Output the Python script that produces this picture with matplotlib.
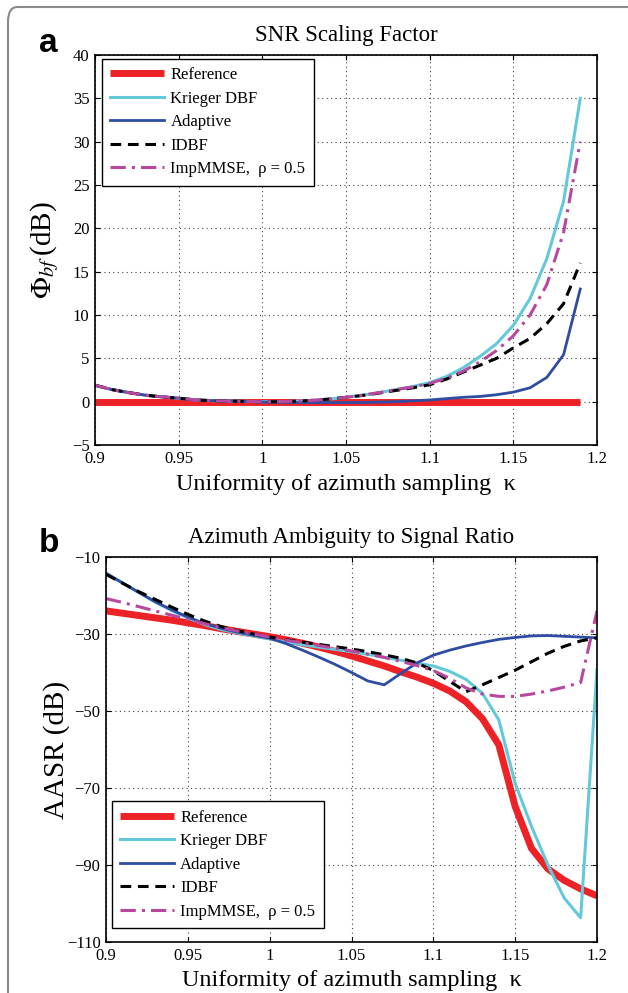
import numpy as np
import matplotlib
matplotlib.use("Agg")
import matplotlib.pyplot as plt
from matplotlib.patches import FancyBboxPatch

plt.rcParams['font.family'] = ['Liberation Serif', 'DejaVu Serif']
plt.rcParams['mathtext.fontset'] = 'stix'

# ---- data: panel a (SNR scaling factor, dB) ----
kappa_a = [0.90, 0.91, 0.92, 0.93, 0.94, 0.95, 0.96, 0.97, 0.98, 0.99,
           1.00, 1.01, 1.02, 1.03, 1.04, 1.05, 1.06, 1.07, 1.08, 1.09,
           1.10, 1.11, 1.12, 1.13, 1.14, 1.15, 1.16, 1.17, 1.18, 1.19]
snr_ref = [0.0] * 30
snr_krieger = [1.9, 1.4, 1.05, 0.75, 0.55, 0.4, 0.2, 0.12, 0.07, 0.03,
               0.0, 0.0, 0.05, 0.15, 0.3, 0.5, 0.75, 1.05, 1.4, 1.75,
               2.2, 2.9, 3.9, 5.2, 6.7, 8.8, 11.9, 16.5, 23.1, 35.0]
snr_adaptive = [1.9, 1.4, 1.05, 0.75, 0.55, 0.4, 0.2, 0.12, 0.07, 0.03,
                -0.05, -0.08, -0.1, -0.1, -0.1, -0.1, -0.1, -0.05, 0.0, 0.1,
                0.2, 0.35, 0.5, 0.6, 0.8, 1.1, 1.6, 2.8, 5.4, 13.0]
snr_idbf = [1.9, 1.4, 1.05, 0.75, 0.55, 0.4, 0.2, 0.12, 0.07, 0.03,
            0.0, 0.0, 0.05, 0.15, 0.3, 0.5, 0.72, 1.0, 1.3, 1.6,
            1.95, 2.6, 3.4, 4.2, 5.0, 6.2, 7.3, 9.0, 11.3, 16.0]
snr_imp = [1.9, 1.4, 1.05, 0.75, 0.55, 0.4, 0.2, 0.12, 0.07, 0.03,
           0.0, 0.0, 0.05, 0.15, 0.3, 0.5, 0.75, 1.05, 1.4, 1.7,
           2.1, 2.7, 3.5, 4.6, 5.9, 7.6, 10.0, 13.5, 19.5, 30.0]

# ---- data: panel b (AASR, dB) ----
kappa_b = [0.90, 0.91, 0.92, 0.93, 0.94, 0.95, 0.96, 0.97, 0.98, 0.99,
           1.00, 1.01, 1.02, 1.03, 1.04, 1.05, 1.06, 1.07, 1.08, 1.09,
           1.10, 1.11, 1.12, 1.13, 1.14, 1.15, 1.16, 1.17, 1.18, 1.19, 1.20]
aasr_ref = [-24.0, -24.6, -25.2, -25.8, -26.4, -27.1, -27.8, -28.6, -29.3, -30.0,
            -30.7, -31.5, -32.4, -33.4, -34.5, -35.7, -37.0, -38.3, -39.8, -41.2,
            -42.8, -44.8, -47.6, -52.0, -58.8, -74.8, -85.7, -91.0, -94.0, -96.2, -98.0]
aasr_krieger = [-14.3, -16.7, -19.2, -21.7, -23.9, -25.8, -27.5, -28.8, -29.7, -30.5,
                -31.3, -32.1, -32.8, -33.4, -34.0, -34.6, -35.3, -36.0, -36.8, -37.6,
                -38.3, -39.7, -41.8, -45.4, -52.3, -68.8, -80.0, -90.0, -98.6, -103.7, -39.3]
aasr_adaptive = [-14.2, -16.7, -19.2, -21.6, -23.7, -25.6, -27.2, -28.5, -29.5, -30.3,
                 -31.1, -32.5, -34.2, -36.0, -37.9, -40.0, -42.2, -43.2, -40.3, -37.5,
                 -35.5, -34.2, -33.1, -32.2, -31.4, -30.9, -30.5, -30.4, -30.6, -30.8, -31.0]
aasr_idbf = [-14.5, -16.8, -19.0, -21.0, -23.0, -24.9, -26.6, -28.0, -29.1, -30.0,
             -30.8, -31.5, -32.1, -32.7, -33.3, -33.9, -34.6, -35.4, -36.3, -37.5,
             -39.5, -42.3, -45.0, -43.2, -41.3, -39.4, -37.2, -35.0, -33.2, -31.8, -31.0]
aasr_imp = [-20.8, -21.8, -22.9, -24.0, -25.1, -26.2, -27.3, -28.3, -29.2, -30.0,
            -30.8, -31.6, -32.3, -33.0, -33.7, -34.4, -35.2, -36.1, -37.1, -38.2,
            -39.5, -41.5, -44.0, -45.6, -46.2, -46.2, -45.6, -44.8, -43.8, -42.6, -24.0]

xticks = [0.9, 0.95, 1.0, 1.05, 1.1, 1.15, 1.2]
xtick_labels = ['0.9', '0.95', '1', '1.05', '1.1', '1.15', '1.2']
yticks_a = [-5, 0, 5, 10, 15, 20, 25, 30, 35, 40]
yticks_b = [-110, -90, -70, -50, -30, -10]

names = ['Reference', 'Krieger DBF', 'Adaptive', 'IDBF', 'ImpMMSE,  ρ = 0.5']

c_red = '#EC2227'
c_cyan = '#63C9DA'
c_blue = '#2F4CA3'
c_mag = '#B8489E'

W, H = 628, 993
fig = plt.figure(figsize=(W / 100, H / 100), dpi=100)

# outer panel frame
frame = FancyBboxPatch((8 / W, 1 - 1010 / H), 660 / W, 1003 / H,
                       boxstyle="round,pad=0,rounding_size=0.015",
                       transform=fig.transFigure, fill=False,
                       edgecolor='#8a8a8a', linewidth=1.5, clip_on=False)
fig.patches.append(frame)

ax1 = fig.add_axes([95 / W, 1 - 445 / H, 502 / W, 390 / H])
ax2 = fig.add_axes([106 / W, 1 - 942 / H, 491 / W, 385 / H])


def draw(ax, x, series):
    ref, kr, ad, idb, imp = series
    ax.plot(x, ref, color=c_red, lw=5, label=names[0], solid_capstyle='butt')
    ax.plot(x, kr, color=c_cyan, lw=2.2, label=names[1])
    ax.plot(x, ad, color=c_blue, lw=2.0, label=names[2])
    ax.plot(x, idb, color='k', lw=2.2, dashes=(3.5, 2.2), label=names[3])
    ax.plot(x, imp, color=c_mag, lw=2.2, dashes=(5, 2, 1, 2), label=names[4])


def style(ax, yticks, title, ylabel, yl_x):
    ax.set_xlim(0.9, 1.2)
    ax.set_ylim(yticks[0], yticks[-1])
    ax.set_xticks(xticks)
    ax.set_xticklabels(xtick_labels)
    ax.set_yticks(yticks)
    ax.grid(True, linestyle=(0, (1, 3)), color='0.25', linewidth=0.8)
    ax.tick_params(direction='in', top=True, right=True, length=3.5,
                   width=0.8, labelsize=12, pad=4)
    for s in ax.spines.values():
        s.set_linewidth(1.2)
    ax.set_title(title, fontsize=16.5, pad=10)
    ax.set_xlabel('Uniformity of azimuth sampling  κ', fontsize=17.5, va='center')
    ax.xaxis.set_label_coords(0.5, -0.1)
    ax.set_ylabel(ylabel, fontsize=21, va='center')
    ax.yaxis.set_label_coords(yl_x, 0.5)


draw(ax1, kappa_a, [snr_ref, snr_krieger, snr_adaptive, snr_idbf, snr_imp])
draw(ax2, kappa_b, [aasr_ref, aasr_krieger, aasr_adaptive, aasr_idbf, aasr_imp])

style(ax1, yticks_a, 'SNR Scaling Factor', r'$\Phi_{bf}\,$(dB)', -0.1)
style(ax2, yticks_b, 'Azimuth Ambiguity to Signal Ratio', 'AASR (dB)', -0.1)

leg_kw = dict(fontsize=12, frameon=True, fancybox=False, framealpha=1,
              edgecolor='k', handlelength=3.2, handletextpad=0.4,
              labelspacing=0.45, borderpad=0.5, borderaxespad=0)
l1 = ax1.legend(loc='upper left', bbox_to_anchor=(0.014, 0.99), **leg_kw)
l2 = ax2.legend(loc='lower left', bbox_to_anchor=(0.012, 0.036), **leg_kw)
for lg in (l1, l2):
    lg.get_frame().set_linewidth(1.0)

fig.text(48 / W, 1 - 52 / H, 'a', fontsize=24, fontweight='bold',
         family='Liberation Sans', ha='center', va='baseline')
fig.text(49 / W, 1 - 552 / H, 'b', fontsize=24, fontweight='bold',
         family='Liberation Sans', ha='center', va='baseline')

fig.savefig('out.png', dpi=100)
